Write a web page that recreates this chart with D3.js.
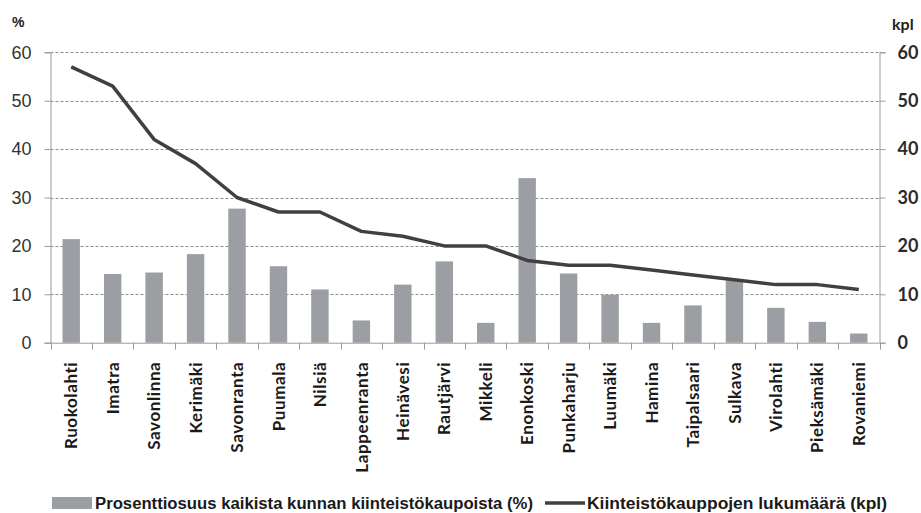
<!DOCTYPE html>
<html><head><meta charset="utf-8">
<script src="https://cdn.jsdelivr.net/npm/d3@7"></script>
<style>body{margin:0;background:#fff}svg{display:block}</style>
</head><body>
<svg id="c" width="921" height="513"></svg>
<script>
const categories = ["Ruokolahti","Imatra","Savonlinna","Kerimäki","Savonranta","Puumala","Nilsiä","Lappeenranta","Heinävesi","Rautjärvi","Mikkeli","Enonkoski","Punkaharju","Luumäki","Hamina","Taipalsaari","Sulkava","Virolahti","Pieksämäki","Rovaniemi"];
const percentValues = [21.4,14.2,14.5,18.3,27.7,15.8,11.0,4.6,12.0,16.8,4.1,34.0,14.3,9.9,4.1,7.7,12.9,7.2,4.3,1.9];
const countValues = [57,53,42,37,30,27,27,23,22,20,20,17,16,16,15,14,13,12,12,11];
const yTicks = [0,10,20,30,40,50,60];
const legendLabels = ["Prosenttiosuus kaikista kunnan kiinteistökaupoista (%)","Kiinteistökauppojen lukumäärä (kpl)"];

const svg = d3.select("#c");
const L = 50.5, R = 879.5, T = 52.3, B = 342.7;
const x = d3.scaleBand().domain(categories).range([L, R]).paddingInner(0).paddingOuter(0);
const yL = d3.scaleLinear().domain([0,60]).range([B, T]);
const yR = d3.scaleLinear().domain([0,60]).range([B, T]);
const axisCol = "#9a9a9a";

// gridlines
svg.append("g").selectAll("line").data(yTicks.filter(d=>d>0)).join("line")
  .attr("x1", L).attr("x2", R).attr("y1", d=>Math.round(yL(d))+0.5).attr("y2", d=>Math.round(yL(d))+0.5)
  .attr("stroke", "#8c8c8c").attr("stroke-width", 1).attr("stroke-dasharray", "3,2");

// bars
const bw = x.bandwidth()*0.42;
svg.append("g").selectAll("rect").data(categories).join("rect")
  .attr("x", (d)=>x(d)+x.bandwidth()/2-bw/2).attr("width", bw)
  .attr("y", (d,i)=>yL(percentValues[i])).attr("height", (d,i)=>B-yL(percentValues[i]))
  .attr("fill", "#9b9ea2");

// left axis
const gl = svg.append("g").attr("transform", `translate(${L},0)`)
  .call(d3.axisLeft(yL).tickValues(yTicks).tickSize(6).tickPadding(13).tickFormat(d3.format("d")));
gl.select(".domain").attr("stroke", axisCol);
gl.selectAll(".tick line").attr("stroke", axisCol);
gl.selectAll(".tick text").attr("font-family","Liberation Sans, Arial").attr("font-size", 18).attr("fill","#333");

// right axis
const gr = svg.append("g").attr("transform", `translate(${R},0)`)
  .call(d3.axisRight(yR).tickValues(yTicks).tickSize(6).tickPadding(12).tickFormat(d3.format("d")));
gr.select(".domain").attr("stroke", axisCol);
gr.selectAll(".tick line").attr("stroke", axisCol);
gr.selectAll(".tick text").attr("font-family","Lato").attr("font-weight","bold").attr("font-size", 18).attr("fill","#2a2a2a");

// bottom axis
const gb = svg.append("g").attr("transform", `translate(0,${B})`)
  .call(d3.axisBottom(x).tickSize(0).tickPadding(0));
gb.select(".domain").attr("stroke", axisCol).attr("d", `M${L},0.5H${R}`);
svg.append("g").selectAll("line").data(categories.concat([null])).join("line")
  .attr("x1", (d,i)=>Math.round(L + i*x.bandwidth())+0.5).attr("x2", (d,i)=>Math.round(L + i*x.bandwidth())+0.5)
  .attr("y1", B).attr("y2", B+7).attr("stroke", axisCol);
gb.selectAll(".tick text")
  .attr("transform","rotate(-90)")
  .attr("text-anchor","end").attr("x",-19).attr("y",0).attr("dy","0.36em")
  .attr("font-family","Lato").attr("font-weight","bold").attr("font-size",17).attr("fill","#1a1a1a").attr("letter-spacing","0.6px");

// line
const line = d3.line().x((d,i)=>x(categories[i])+x.bandwidth()/2).y(d=>yR(d));
svg.append("path").datum(countValues).attr("d", line)
  .attr("fill","none").attr("stroke","#404040").attr("stroke-width",3.5).attr("stroke-linejoin","round");

// axis titles
svg.append("text").attr("x",12).attr("y",27).text("%").attr("font-family","Liberation Sans, Arial").attr("font-weight","bold").attr("font-size",14).attr("fill","#222");
svg.append("text").attr("x",892).attr("y",30).text("kpl").attr("font-family","Lato").attr("font-weight","bold").attr("font-size",16).attr("fill","#222");

// legend
const ly = 503;
svg.append("rect").attr("x",52).attr("y",ly-6).attr("width",40).attr("height",12).attr("fill","#9b9ea2");
svg.append("text").attr("x",95).attr("y",ly).attr("dy","0.36em").text(legendLabels[0])
  .attr("font-family","Liberation Sans Narrow, Liberation Sans").attr("font-weight","bold").attr("font-size",16).attr("fill","#1a1a1a")
  .attr("textLength",438).attr("lengthAdjust","spacingAndGlyphs");
svg.append("line").attr("x1",545).attr("x2",585).attr("y1",ly).attr("y2",ly).attr("stroke","#404040").attr("stroke-width",3.5);
svg.append("text").attr("x",587).attr("y",ly).attr("dy","0.36em").text(legendLabels[1])
  .attr("font-family","Liberation Sans Narrow, Liberation Sans").attr("font-weight","bold").attr("font-size",16).attr("fill","#1a1a1a")
  .attr("textLength",300).attr("lengthAdjust","spacingAndGlyphs");
</script>
</body></html>
